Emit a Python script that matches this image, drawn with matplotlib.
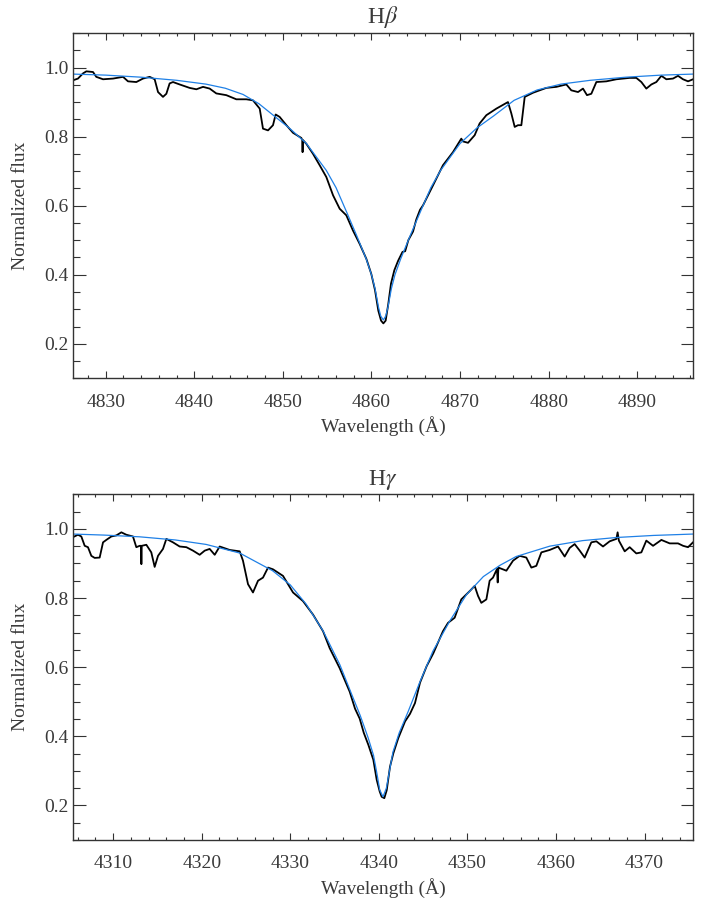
import matplotlib
matplotlib.use("Agg")
import matplotlib.pyplot as plt
from matplotlib.ticker import MultipleLocator, FormatStrFormatter

# ---------------- Data ----------------
# H-beta observed spectrum
hb_wave = [4826.30, 4826.86, 4827.43, 4827.81, 4828.56, 4828.93, 4829.69, 4830.82, 4831.95, 4832.51,
           4833.45, 4834.20, 4834.96, 4835.52, 4835.90, 4836.46, 4836.84, 4837.21, 4837.59, 4838.34,
           4839.47, 4840.23, 4840.98, 4841.73, 4842.48, 4843.61, 4844.74, 4845.87, 4846.62, 4847.38,
           4847.75, 4848.32, 4848.88, 4849.18, 4849.63, 4850.39, 4851.14, 4852.08, 4852.18, 4852.22,
           4852.26, 4852.65, 4853.40, 4854.15, 4854.90, 4855.66, 4856.41, 4857.16, 4857.91, 4858.67,
           4859.42, 4859.98, 4860.40, 4860.77, 4861.08, 4861.34, 4861.60, 4861.90, 4862.20, 4862.58,
           4863.00, 4863.50, 4863.80, 4864.16, 4864.69, 4865.06, 4865.48, 4865.82, 4866.95, 4868.07,
           4869.20, 4870.14, 4870.33, 4870.90, 4871.65, 4872.21, 4872.97, 4874.10, 4875.41, 4875.79,
           4876.17, 4876.54, 4876.92, 4877.30, 4878.24, 4879.74, 4880.87, 4882.00, 4882.56, 4883.32,
           4883.88, 4884.33, 4884.82, 4885.39, 4886.52, 4887.65, 4889.15, 4889.90, 4890.47, 4891.03,
           4891.60, 4892.16, 4892.73, 4893.29, 4894.04, 4894.61, 4895.17, 4895.74, 4896.30]
hb_flux = [0.963, 0.968, 0.983, 0.989, 0.987, 0.973, 0.966, 0.968, 0.973, 0.960,
           0.958, 0.968, 0.973, 0.966, 0.929, 0.915, 0.924, 0.954, 0.958, 0.951,
           0.941, 0.937, 0.944, 0.939, 0.925, 0.920, 0.908, 0.908, 0.905, 0.881,
           0.823, 0.818, 0.833, 0.864, 0.857, 0.833, 0.811, 0.796, 0.790, 0.755,
           0.790, 0.779, 0.750, 0.717, 0.683, 0.630, 0.591, 0.572, 0.528, 0.489,
           0.446, 0.402, 0.355, 0.296, 0.267, 0.259, 0.267, 0.316, 0.374, 0.413,
           0.440, 0.466, 0.468, 0.500, 0.525, 0.560, 0.588, 0.601, 0.659, 0.717,
           0.755, 0.794, 0.786, 0.782, 0.804, 0.838, 0.862, 0.881, 0.900, 0.867,
           0.828, 0.833, 0.833, 0.915, 0.927, 0.941, 0.944, 0.951, 0.934, 0.929,
           0.939, 0.920, 0.924, 0.958, 0.960, 0.966, 0.970, 0.970, 0.958, 0.939,
           0.951, 0.958, 0.976, 0.966, 0.968, 0.976, 0.966, 0.960, 0.966]

# H-beta model fit
hb_model_wave = [4826.3, 4830.0, 4834.0, 4838.0, 4841.3, 4843.5, 4845.5, 4847.3, 4848.9, 4850.8,
                 4852.65, 4854.9, 4856.0, 4857.2, 4858.3, 4859.4, 4860.0, 4860.4, 4860.8, 4861.05,
                 4861.34, 4861.6, 4861.85, 4862.25, 4862.65, 4863.3, 4864.4, 4865.5, 4866.7, 4867.8,
                 4870.0, 4871.9, 4873.8, 4876.1, 4878.7, 4881.4, 4884.7, 4888.7, 4892.7, 4896.3]
hb_model_flux = [0.981, 0.978, 0.972, 0.963, 0.952, 0.940, 0.922, 0.895, 0.862, 0.823,
                 0.780, 0.702, 0.652, 0.581, 0.515, 0.446, 0.400, 0.360, 0.305, 0.280,
                 0.269, 0.280, 0.305, 0.360, 0.400, 0.446, 0.515, 0.581, 0.652, 0.702,
                 0.780, 0.825, 0.860, 0.905, 0.935, 0.952, 0.963, 0.972, 0.978, 0.981]

# H-gamma observed spectrum
hg_wave = [4305.47, 4306.03, 4306.41, 4306.79, 4307.16, 4307.54, 4307.92, 4308.48, 4308.86, 4309.23,
           4309.80, 4310.36, 4310.93, 4311.49, 4312.24, 4312.62, 4313.00, 4313.15, 4313.19, 4313.23,
           4313.75, 4314.31, 4314.69, 4315.07, 4315.63, 4316.01, 4316.76, 4317.51, 4318.27, 4319.02,
           4319.77, 4320.34, 4320.90, 4321.47, 4322.03, 4323.16, 4324.29, 4324.66, 4325.23, 4325.79,
           4326.36, 4326.92, 4327.49, 4328.05, 4329.18, 4330.31, 4331.44, 4332.57, 4333.70, 4334.45,
           4335.58, 4336.71, 4337.31, 4337.84, 4338.30, 4338.82, 4339.38, 4339.76, 4340.10, 4340.32,
           4340.62, 4340.89, 4341.26, 4341.64, 4342.20, 4342.96, 4343.52, 4344.08, 4344.65, 4345.40,
           4346.15, 4347.24, 4347.81, 4348.56, 4349.31, 4350.26, 4350.82, 4351.20, 4351.57, 4352.14,
           4352.51, 4352.89, 4353.34, 4353.42, 4353.50, 4354.40, 4355.15, 4355.90, 4356.65, 4357.22,
           4357.78, 4358.35, 4359.29, 4360.23, 4360.98, 4361.55, 4362.11, 4362.68, 4363.24, 4363.99,
           4364.56, 4365.31, 4366.06, 4366.82, 4366.96, 4367.10, 4367.76, 4368.32, 4369.07, 4369.64,
           4370.20, 4370.96, 4371.90, 4372.84, 4373.78, 4374.35, 4374.91, 4375.47]
hg_flux = [0.976, 0.983, 0.978, 0.951, 0.947, 0.922, 0.916, 0.917, 0.961, 0.968,
           0.978, 0.981, 0.990, 0.983, 0.978, 0.947, 0.951, 0.951, 0.898, 0.951,
           0.954, 0.932, 0.890, 0.922, 0.942, 0.971, 0.961, 0.949, 0.947, 0.937,
           0.925, 0.937, 0.942, 0.925, 0.949, 0.939, 0.935, 0.908, 0.840, 0.816,
           0.850, 0.859, 0.888, 0.883, 0.864, 0.816, 0.791, 0.752, 0.704, 0.655,
           0.597, 0.529, 0.480, 0.451, 0.410, 0.375, 0.332, 0.274, 0.240, 0.225,
           0.221, 0.244, 0.312, 0.351, 0.395, 0.443, 0.465, 0.496, 0.555, 0.603,
           0.640, 0.704, 0.728, 0.743, 0.796, 0.820, 0.835, 0.806, 0.786, 0.796,
           0.850, 0.859, 0.884, 0.845, 0.888, 0.879, 0.908, 0.922, 0.917, 0.888,
           0.893, 0.932, 0.939, 0.949, 0.920, 0.945, 0.956, 0.937, 0.917, 0.961,
           0.964, 0.949, 0.964, 0.971, 0.990, 0.966, 0.935, 0.947, 0.929, 0.932,
           0.966, 0.951, 0.968, 0.958, 0.958, 0.951, 0.947, 0.961]

# H-gamma model fit
hg_model_wave = [4305.47, 4309.0, 4313.0, 4317.0, 4320.5, 4324.3, 4328.0, 4330.0, 4331.8, 4333.7,
                 4335.6, 4336.8, 4337.9, 4338.8, 4339.4, 4339.8, 4340.1, 4340.47, 4340.85, 4341.2,
                 4341.6, 4342.3, 4343.3, 4344.6, 4346.1, 4348.0, 4349.9, 4351.8, 4353.7, 4355.5,
                 4359.3, 4363.0, 4366.8, 4371.0, 4375.47]
hg_model_flux = [0.985, 0.982, 0.977, 0.968, 0.955, 0.930, 0.879, 0.838, 0.782, 0.705,
                 0.607, 0.530, 0.460, 0.395, 0.345, 0.290, 0.245, 0.225, 0.250, 0.300,
                 0.355, 0.410, 0.471, 0.555, 0.646, 0.733, 0.810, 0.862, 0.895, 0.920,
                 0.950, 0.966, 0.975, 0.981, 0.985]

panels = [
    (r"H$\beta$", hb_wave, hb_flux, hb_model_wave, hb_model_flux, (4826.3, 4896.3)),
    (r"H$\gamma$", hg_wave, hg_flux, hg_model_wave, hg_model_flux, (4305.47, 4375.47)),
]

# ---------------- Style ----------------
plt.rcParams["font.family"] = ["Liberation Serif", "DejaVu Serif"]
plt.rcParams["mathtext.fontset"] = "stix"

TXT = "#3a3a3a"
AX = "#333333"
BLUE = "#1f80e6"

fig = plt.figure(figsize=(7.15, 9.01), dpi=100)
rects = [[73 / 715, 1 - 378.3 / 901, 620 / 715, 345.3 / 901],
         [73 / 715, 1 - 840 / 901, 620 / 715, 345.7 / 901]]

for rect, (title, w, f, mw, mf, xlim) in zip(rects, panels):
    ax = fig.add_axes(rect)
    ax.plot(w, f, color="black", lw=1.3, solid_joinstyle="round")
    ax.plot(mw, mf, color=BLUE, lw=0.9)
    ax.set_xlim(*xlim)
    ax.set_ylim(0.1, 1.1)
    ax.xaxis.set_major_locator(MultipleLocator(10))
    ax.xaxis.set_minor_locator(MultipleLocator(2))
    ax.yaxis.set_major_locator(MultipleLocator(0.2))
    ax.yaxis.set_minor_locator(MultipleLocator(0.05))
    ax.yaxis.set_major_formatter(FormatStrFormatter("%.1f"))
    ax.tick_params(which="both", direction="in", top=True, right=True,
                   color=AX, width=0.8, labelcolor=TXT, labelsize=14)
    ax.tick_params(axis="x", which="major", length=4.8, pad=11)
    ax.tick_params(axis="x", which="minor", length=2.4)
    ax.tick_params(axis="y", which="major", length=9.0, pad=3)
    ax.tick_params(axis="y", which="minor", length=4.8)
    for sp in ax.spines.values():
        sp.set_color(AX)
        sp.set_linewidth(1.0)
    ax.set_xlabel("Wavelength (Å)", fontsize=14, color=TXT, labelpad=4)
    ax.set_ylabel("Normalized flux", fontsize=14, color=TXT, labelpad=11)
    ax.set_title(title, fontsize=17, color=TXT, pad=7)

fig.savefig("out.png", dpi=100)
